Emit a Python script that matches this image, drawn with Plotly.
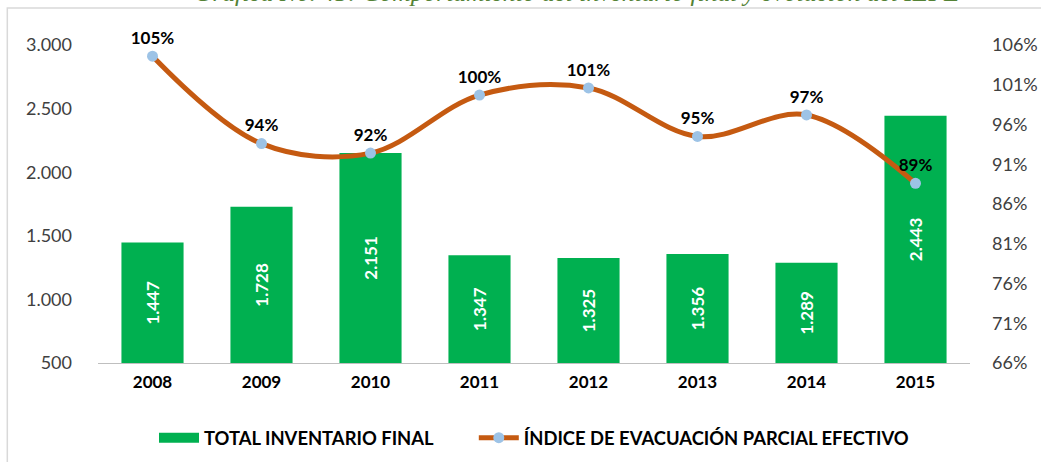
import plotly.graph_objects as go

years = ["2008", "2009", "2010", "2011", "2012", "2013", "2014", "2015"]
inventario = [1447, 1728, 2151, 1347, 1325, 1356, 1289, 2443]
indice = [1.046, 0.936, 0.924, 0.997, 1.006, 0.945, 0.972, 0.886]
indice_labels = ["105%", "94%", "92%", "100%", "101%", "95%", "97%", "89%"]
left_ticks = [500, 1000, 1500, 2000, 2500, 3000]
right_ticks = [0.66, 0.71, 0.76, 0.81, 0.86, 0.91, 0.96, 1.01, 1.06]

bar_name = "TOTAL INVENTARIO FINAL"
line_name = "ÍNDICE DE EVACUACIÓN PARCIAL EFECTIVO"
title_text = "Gráfica No. 45: Comportamiento del inventario final y evolución del IEPE"

GREEN = "#00B050"

fig = go.Figure()
fig.add_trace(go.Bar(
    x=years, y=[v - 500 for v in inventario], base=500,
    name=bar_name, showlegend=False,
    marker=dict(color=GREEN, line=dict(width=0)),
    width=0.57,
    text=[f"{v:,}".replace(",", ".") for v in inventario],
    textposition="inside", insidetextanchor="middle", textangle=-90,
    textfont=dict(color="white", size=17, family="Lato", weight="bold"),
    hoverinfo="skip",
))
# legend proxy for the bars (wide green swatch like the original)
fig.add_trace(go.Scatter(
    x=[years[0]], y=[None], mode="lines", name=bar_name + "\u00a0" * 8,
    line=dict(color=GREEN, width=11), hoverinfo="skip",
))
fig.add_trace(go.Scatter(
    x=years, y=indice, yaxis="y2", name=line_name,
    mode="lines+markers+text",
    line=dict(color="#C55A11", width=5, shape="spline", smoothing=1.0),
    marker=dict(color="#9DC3E6", size=11),
    text=indice_labels, textposition="top center", cliponaxis=False,
    textfont=dict(color="black", size=17, family="Lato", weight="bold"),
))

fig.update_layout(
    width=1041, height=462,
    margin=dict(l=98, r=71, t=45, b=99, autoexpand=False),
    paper_bgcolor="white", plot_bgcolor="white",
    separators=",.",
    font=dict(family="Lato", size=18, color="#404040"),
    showlegend=True,
    legend=dict(orientation="h", x=0.5, xanchor="center", y=-0.235, yanchor="middle",
                font=dict(family="Lato", size=18.4, color="black", weight="bold"),
                itemwidth=40, traceorder="normal"),
    xaxis=dict(type="category", showline=True, linecolor="#BFBFBF", linewidth=1,
               ticks="", ticklabelstandoff=4,
               tickfont=dict(size=17, color="black", family="Lato", weight="bold"),
               showgrid=False, range=[-0.5, 7.5]),
    yaxis=dict(range=[500, 3000], tickvals=left_ticks, tickformat=",.0f",
               showgrid=False, zeroline=False, showline=False, ticks="",
               ticklabelstandoff=25, tickfont=dict(size=18, color="#404040")),
    yaxis2=dict(range=[0.66, 1.06], tickvals=right_ticks, tickformat=".0%",
                overlaying="y", side="right", showgrid=False, zeroline=False,
                showline=False, ticks="", ticklabelstandoff=21,
                tickfont=dict(size=18, color="#404040")),
    shapes=[dict(type="rect", xref="paper", yref="paper",
                 x0=-0.104, x1=1.1, y0=-0.4, y1=1.116,
                 line=dict(color="#D9D9D9", width=1.5), layer="below")],
    annotations=[dict(text=title_text, xref="paper", yref="paper",
                      x=0.549, y=1.165, xanchor="center", yanchor="middle",
                      showarrow=False,
                      font=dict(family="Liberation Serif", size=25.5, color="#548235", style="italic"))],
)

fig.write_html(
    "out.html",
    config={"displayModeBar": False},
    post_script="document.body.style.margin='0';document.body.style.overflow='hidden';",
)
